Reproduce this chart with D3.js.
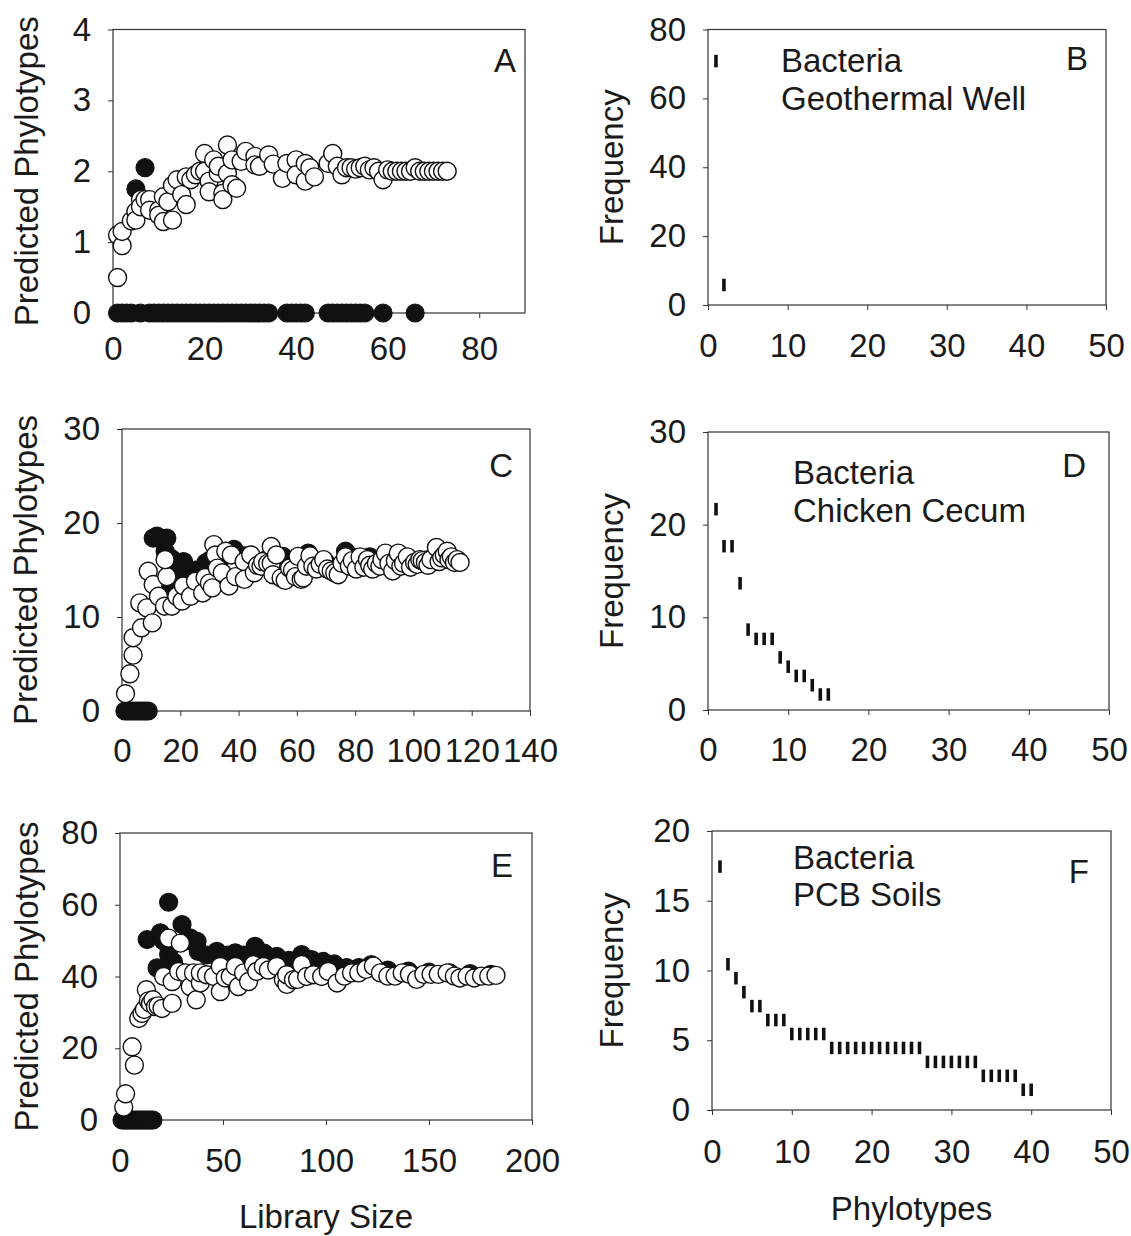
<!DOCTYPE html>
<html>
<head>
<meta charset="utf-8">
<script src="https://cdn.jsdelivr.net/npm/d3@7"></script>
<style>
  body { margin: 0; background: #fff; }
  svg text { font-family: "Liberation Sans", Arial, sans-serif; fill: #1a1a1a; }
</style>
</head>
<body>
<svg id="chart" width="1131" height="1236"></svg>
<script>
// ---- data ----
// panel A : predicted phylotypes vs library size (open and filled estimators)
var openA = [[1,0.5],[1,1.1],[2,0.95],[2,1.15],[4,1.3],[5,1.43],[5,1.31],[6,1.6],[6,1.5],[7,1.6],[8,1.6],[8,1.45],
  [10,1.45],[10,1.38],[11,1.29],[11,1.64],[12,1.57],[13,1.31],[13,1.8],[14,1.88],[15,1.67],[16,1.92],[16,1.53],
  [17,1.88],[18,1.95],[19,2.0],[20,2.25],[20,2.0],[21,1.86],[21,1.71],[22,2.16],[23,1.97],[23,2.07],[24,1.69],
  [24,1.6],[25,2.37],[25,1.97],[26,1.81],[26,2.16],[27,1.76],[28,2.14],[29,2.28],[31,2.21],[31,2.09],[32,2.07],
  [34,2.23],[35,2.1],[37,1.9],[38,2.11],[40,2.16],[40,1.95],[42,1.86],[42,2.11],[43,2.05],[44,1.92],[47,2.11],
  [48,2.25],[49,2.07],[50,1.95],[51,2.05],[52,2.05],[53,2.03],[54,2.05],[55,2.07],[56,2.02],[57,2.05],[58,2.0],
  [59,1.88],[60,2.02],[61,2.0],[62,2.0],[63,2.0],[64,2.0],[65,2.0],[66,2.05],[67,2.0],[68,2.0],[69,2.0],[70,2.0],
  [71,2.0],[72,2.0],[73,2.0]];
var filledA = [[1,0],[2,0],[3,0],[4,0],[5,1.75],[6,0],[7,2.05],[8,0],[9,0],[10,0],[11,0],[12,0],[13,0],[14,0],
  [15,0],[16,0],[17,0],[18,0],[19,0],[20,0],[21,0],[22,0],[23,0],[24,0],[25,0],[26,0],[27,0],[28,0],[29,0],
  [30,0],[31,0],[32,0],[33,0],[34,0],[38,0],[39,0],[40,0],[41,0],[42,0],[47,0],[48,0],[49,0],[50,0],[51,0],
  [52,0],[53,0],[54,0],[55,0],[59,0],[66,0]];

// panel C
var openC = [[1.2,1.84],[2.7,3.96],[3.8,5.94],[3.8,7.8],[6.7,8.85],[6.1,11.5],[8.5,10.97],[10.4,9.37],[9.0,14.86],
  [10.7,13.45],[12.5,12.2],[14.6,11.15],[15.4,14.3],[14.8,16.1],[17.1,11.15],[18.8,12.2],[20.6,11.7],[21.1,13.3],
  [23.5,12.2],[25.2,13.8],[27.7,12.56],[28.5,14.2],[30,13.6],[31,13.1],[31.5,17.7],[32.1,16.6],[32.7,15.2],
  [34.4,14.7],[35.6,17],[36.7,13.3],[37.5,16.6],[39,14.3],[41.9,15.9],[42,14],[44.2,16.6],[45.4,14.7],[46.5,15.5],
  [47.7,15.4],[48.3,15.9],[50,15.7],[51.2,17.5],[51.2,15.7],[51.8,14.5],[53,16.6],[54.6,14.15],[56,13.9],
  [57.5,15.2],[58.5,15.0],[59.5,14.3],[60.4,16.45],[61.5,14.0],[62.2,14.15],[63.3,15.4],[64.5,16.5],[65.5,15.4],
  [66.7,15.1],[68,15.6],[69.2,16.1],[70.5,15.1],[71.8,14.9],[73,14.7],[74.2,14.5],[75.5,15.7],[76.7,16.4],
  [78,15.4],[79,16.0],[80.4,15.1],[81.7,16.4],[83,15.3],[84.2,16.1],[85,15.5],[86,15.1],[87.3,15.7],[88.5,15.4],
  [89.2,16.1],[90.4,16.8],[91.6,15.7],[92.9,14.9],[93.8,16.0],[94.8,16.8],[95.7,15.4],[96.6,15.7],[97.9,16.4],
  [99,15.3],[100.4,15.8],[101.3,15.6],[102.2,16.1],[103,16.0],[104.1,15.8],[105,15.5],[106,16.1],[107.9,17.4],
  [108.8,15.9],[109.7,16.3],[110.6,16.6],[111.6,17],[112.2,16.1],[113,16.4],[114.1,15.8],[115,16.1],[116,15.8]];
var filledC = [[1,0],[2,0],[3,0],[4,0],[5,0],[6,0],[7,0],[8,0],[9,0],[10.7,18.4],[12,18.6],[13,18.4],[14.8,17],
  [15.4,18.4],[16.5,13.5],[17,16.2],[19,15.4],[19.5,14.6],[21.1,15.9],[22.1,15],[23,14.8],[25.2,15],[26.5,14.9],
  [28.7,15.75],[30,16],[33,16.4],[35,16.5],[38.4,17.2],[42,16.5],[46,16],[50,16.2],[55.2,16.45],[57.5,15.7],
  [60,16],[63.9,16.8],[70,15.8],[76.7,17],[80,16.3],[85,16.4],[90,16.2],[95,16.3],[100,16],[105,16.1],
  [110,16.2],[115,15.9]];

// panel E
var openE = [[1.8,3.6],[2.7,7.3],[5.9,20.4],[7.0,15.3],[9.1,28.3],[10.7,29.7],[11.8,30.8],[12.8,36.3],[13.8,33.2],
  [14.8,32.5],[16,33.5],[17.2,31.6],[18.5,31.8],[20.4,31.1],[21.2,40],[23.6,50.7],[25.3,38.6],[25.3,32.5],
  [28.5,41.4],[29.3,49.3],[31.7,41],[34.1,37.2],[35.7,41],[37,33.5],[39,38.2],[39,41],[42,40.5],[45.4,40],
  [48.7,35.8],[48.7,42.8],[51.1,39.6],[53.5,40],[56,42.8],[57.5,37.2],[60,41],[62.4,38.6],[64.8,43.3],[66.4,41.4],
  [69.6,42.8],[72,41.8],[76.1,42.8],[79.3,39.1],[81,37.8],[80.9,40.5],[84.2,39.1],[86.2,39.2],[88.2,43.3],
  [90.6,40],[93.9,40.5],[97.9,40],[101.1,41.4],[105.4,38.2],[108.9,40.1],[112.4,41],[115.9,41],[119.4,42],
  [123,42.9],[126.4,41],[130,40.1],[133.5,40.1],[137,41],[140.5,40.6],[144,39.2],[147.5,40.6],[151,40.6],
  [154.5,40.6],[158.8,41],[162.3,40.1],[165,39.6],[168.5,40.1],[172,39.6],[175.5,40.1],[179,40.1],[182.5,40.3]];
var filledE = [[1,0],[2,0],[3,0],[4,0],[5,0],[6,0],[7,0],[8,0],[9,0],[10,0],[11,0],[12,0],[13,0],[14,0],[15,0],
  [16,0],[13.2,50.3],[18,42.4],[19.6,52.2],[21,50],[23.6,60.7],[23.6,46.1],[26,44],[30.1,54.5],[32,50],[34,50.8],
  [37.4,49.8],[38,47],[42,46],[47,47],[52,46],[56,46.6],[60,46],[65.6,48.4],[70,46.5],[76.1,45.6],[82,44.5],
  [88.2,46.1],[93,44.7],[98.7,44.2],[104,43.5],[110,42.5],[116,42.5],[122,43.3],[130,41.8],[140,41.5],
  [150,41.2],[160,41],[170,40.8],[180,40.6]];

// panels B, D, F : rank-frequency of phylotypes
var freqB = [69, 4];
var freqD = [21, 17, 17, 13, 8, 7, 7, 7, 5, 4, 3, 3, 2, 1, 1];
var freqF = [17, 10, 9, 8, 7, 7, 6, 6, 6, 5, 5, 5, 5, 5, 4, 4, 4, 4, 4, 4, 4, 4, 4, 4, 4, 4,
  3, 3, 3, 3, 3, 3, 3, 2, 2, 2, 2, 2, 1, 1];

// tick labels
var ticksA = { x: [0, 20, 40, 60, 80], y: [0, 1, 2, 3, 4] };
var ticksC = { x: [0, 20, 40, 60, 80, 100, 120, 140], y: [0, 10, 20, 30] };
var ticksE = { x: [0, 50, 100, 150, 200], y: [0, 20, 40, 60, 80] };
var ticksB = { x: [0, 10, 20, 30, 40, 50], y: [0, 20, 40, 60, 80] };
var ticksD = { x: [0, 10, 20, 30, 40, 50], y: [0, 10, 20, 30] };
var ticksF = { x: [0, 10, 20, 30, 40, 50], y: [0, 5, 10, 15, 20] };

// ---- layout ----
var panels = [
  { id: "A", l: 113, r: 525, t: 29.5, b: 313, xd: [0, 90], yd: [0, 4], ticks: ticksA, pad: 19,
    open: openA, filled: filledA, letter: [516, 72], ylab: "Predicted Phylotypes", ylx: 38 },
  { id: "B", l: 708, r: 1106, t: 29.5, b: 305, xd: [0, 50], yd: [0, 80], ticks: ticksB, pad: 24,
    freq: freqB, letter: [1088, 70], ylab: "Frequency", ylx: 623,
    note: ["Bacteria", "Geothermal Well"], noteX: 781, noteY: [72, 110] },
  { id: "C", l: 122, r: 530, t: 429, b: 711, xd: [0, 140], yd: [0, 30], ticks: ticksC, pad: 22.5,
    open: openC, filled: filledC, letter: [513, 477], ylab: "Predicted Phylotypes", ylx: 37 },
  { id: "D", l: 708, r: 1109, t: 432, b: 710, xd: [0, 50], yd: [0, 30], ticks: ticksD, pad: 23,
    freq: freqD, letter: [1086, 477], ylab: "Frequency", ylx: 623,
    note: ["Bacteria", "Chicken Cecum"], noteX: 793, noteY: [484, 522] },
  { id: "E", l: 120, r: 532, t: 833, b: 1120, xd: [0, 200], yd: [0, 80], ticks: ticksE, pad: 23.5,
    open: openE, filled: filledE, letter: [513, 877], ylab: "Predicted Phylotypes", ylx: 38,
    xlab: "Library Size", xlabY: 1228 },
  { id: "F", l: 712, r: 1111, t: 831, b: 1110, xd: [0, 50], yd: [0, 20], ticks: ticksF, pad: 24.5,
    freq: freqF, letter: [1089, 883], ylab: "Frequency", ylx: 623,
    note: ["Bacteria", "PCB Soils"], noteX: 793, noteY: [869, 906], xlab: "Phylotypes", xlabY: 1220 }
];

var FS = 33;
var svg = d3.select("#chart");

panels.forEach(function(p) {
    var g = svg.append("g").attr("class", "panel-" + p.id);
    var x = d3.scaleLinear().domain(p.xd).range([p.l, p.r]);
    var y = d3.scaleLinear().domain(p.yd).range([p.b, p.t]);

    var xa = g.append("g")
        .attr("transform", "translate(0," + p.b + ")")
        .call(d3.axisBottom(x).tickValues(p.ticks.x).tickFormat(d3.format("d"))
            .tickSize(5).tickSizeOuter(0).tickPadding(p.pad));
    var ya = g.append("g")
        .attr("transform", "translate(" + p.l + ",0)")
        .call(d3.axisLeft(y).tickValues(p.ticks.y).tickFormat(d3.format("d"))
            .tickSize(5).tickSizeOuter(0).tickPadding(17));
    [xa, ya].forEach(function(a) {
        a.select(".domain").remove();
        a.attr("color", "#333").attr("font-size", FS).attr("font-family", null);
        a.selectAll("line").attr("stroke-width", 1);
    });

    // frame
    g.append("rect")
        .attr("x", p.l).attr("y", p.t)
        .attr("width", p.r - p.l).attr("height", p.b - p.t)
        .attr("fill", "none").attr("stroke", "#333").attr("stroke-width", 1.2);

    if (p.filled) {
        g.append("g").selectAll("circle")
            .data(p.filled).join("circle")
            .attr("cx", function(d) { return x(d[0]); })
            .attr("cy", function(d) { return y(d[1]); })
            .attr("r", 9)
            .attr("fill", "#111").attr("stroke", "#111").attr("stroke-width", 1.2);
        g.append("g").selectAll("circle")
            .data(p.open).join("circle")
            .attr("cx", function(d) { return x(d[0]); })
            .attr("cy", function(d) { return y(d[1]); })
            .attr("r", 9)
            .attr("fill", "#fff").attr("stroke", "#111").attr("stroke-width", 1.4);
    }

    if (p.freq) {
        // rank on x, count on y; dash sits on top of its value
        g.append("g").selectAll("rect")
            .data(p.freq).join("rect")
            .attr("x", function(d, i) { return x(i + 1) - 1.8; })
            .attr("y", function(d) { return y(d) - 12.5; })
            .attr("width", 3.6)
            .attr("height", 12.5)
            .attr("fill", "#111");
        p.note.forEach(function(t, i) {
            g.append("text").attr("x", p.noteX).attr("y", p.noteY[i])
                .attr("font-size", FS).text(t);
        });
    }

    g.append("text")
        .attr("x", p.letter[0]).attr("y", p.letter[1])
        .attr("text-anchor", "end").attr("font-size", FS)
        .text(p.id);

    g.append("text")
        .attr("transform", "translate(" + p.ylx + "," + ((p.t + p.b) / 2) + ") rotate(-90)")
        .attr("text-anchor", "middle").attr("font-size", FS)
        .text(p.ylab);

    if (p.xlab) {
        g.append("text")
            .attr("x", (p.l + p.r) / 2).attr("y", p.xlabY)
            .attr("text-anchor", "middle").attr("font-size", FS)
            .text(p.xlab);
    }
});
</script>
</body>
</html>
